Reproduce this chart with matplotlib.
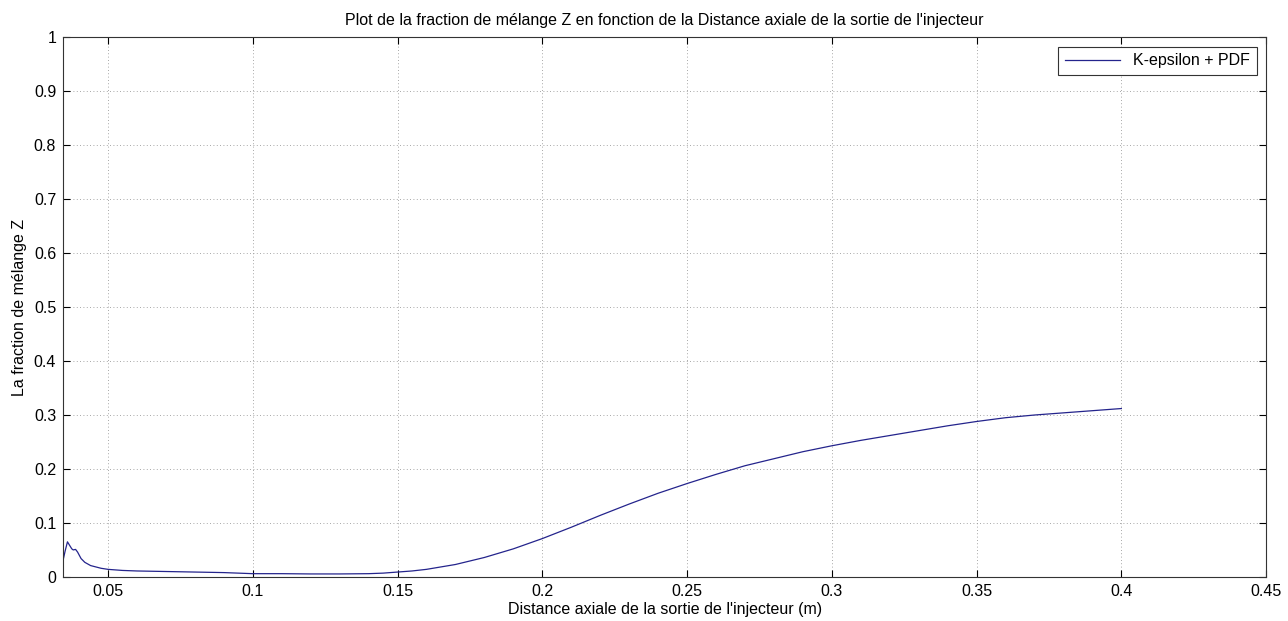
import matplotlib.pyplot as plt
import numpy as np
from matplotlib.ticker import FormatStrFormatter

plt.rcParams['font.family'] = ['Liberation Sans', 'DejaVu Sans']

# axial distance (m) and mixing fraction Z
distance = np.array([0.0345, 0.0352, 0.036, 0.0368, 0.0375, 0.038, 0.0388, 0.0395,
                     0.0407, 0.042, 0.044, 0.0476, 0.05, 0.055, 0.06, 0.07, 0.08,
                     0.09, 0.10, 0.11, 0.12, 0.13, 0.14, 0.145, 0.15, 0.155, 0.16,
                     0.17, 0.18, 0.19, 0.20, 0.21, 0.22, 0.23, 0.24, 0.25, 0.26,
                     0.27, 0.28, 0.29, 0.30, 0.31, 0.32, 0.33, 0.34, 0.35, 0.36,
                     0.37, 0.38, 0.39, 0.40])
z_frac = np.array([0.031, 0.048, 0.065, 0.058, 0.052, 0.050, 0.051, 0.046,
                   0.034, 0.027, 0.021, 0.016, 0.014, 0.012, 0.011, 0.010, 0.009,
                   0.008, 0.006, 0.006, 0.0055, 0.0055, 0.006, 0.007, 0.009, 0.011, 0.014,
                   0.023, 0.036, 0.052, 0.071, 0.092, 0.114, 0.135, 0.155, 0.173, 0.19,
                   0.206, 0.219, 0.232, 0.243, 0.253, 0.262, 0.271, 0.280, 0.288, 0.295,
                   0.300, 0.304, 0.308, 0.312])

xticks = [0.05, 0.1, 0.15, 0.2, 0.25, 0.3, 0.35, 0.4, 0.45]
yticks = np.round(np.arange(0, 1.01, 0.1), 1)

fig = plt.figure(figsize=(12.88, 6.21), dpi=100)
ax = fig.add_axes([0.049, 0.071, 0.934, 0.869])

ax.plot(distance, z_frac, color='#24248c', lw=0.9, label='K-epsilon + PDF')

ax.set_xlim(0.0345, 0.45)
ax.set_ylim(0, 1)
ax.set_xticks(xticks)
ax.set_yticks(yticks)
ax.xaxis.set_major_formatter(FormatStrFormatter('%g'))
ax.yaxis.set_major_formatter(FormatStrFormatter('%g'))
ax.tick_params(direction='in', top=True, right=True, length=5, width=0.8,
               labelsize=11.5, pad=5)
ax.grid(True, linestyle=(0, (1, 3)), color='#8a8a8a', lw=0.6)
for s in ax.spines.values():
    s.set_linewidth(0.8)
    s.set_color('#333333')

ax.set_title("Plot de la fraction de mélange Z en fonction de la Distance axiale de la sortie de l'injecteur",
             fontsize=11.5, pad=9)
ax.set_xlabel("Distance axiale de la sortie de l'injecteur (m)", fontsize=11.5, labelpad=2)
ax.set_ylabel("La fraction de mélange Z", fontsize=11.5, labelpad=5)

leg = ax.legend(loc='upper right', fontsize=11.5, fancybox=False, framealpha=1,
                edgecolor='#333333', handlelength=3.5, borderaxespad=0.6)
leg.get_frame().set_linewidth(0.8)

plt.savefig("out.png")
